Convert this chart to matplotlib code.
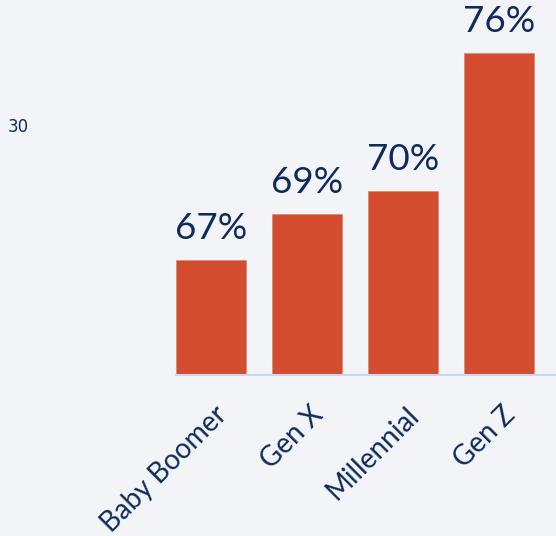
import matplotlib.pyplot as plt
from matplotlib.transforms import ScaledTranslation

generations = ["Baby Boomer", "Gen X", "Millennial", "Gen Z"]
shares = [67, 69, 70, 76]
value_labels = ["67%", "69%", "70%", "76%"]

bg = "#F2F4F7"
navy = "#0E2B5C"
bar_color = "#D34C2D"

fig = plt.figure(figsize=(5.56, 5.36), dpi=100, facecolor=bg)
# axes from bar left edge to beyond right border, baseline at y=375px
ax = fig.add_axes([176 / 556, 161 / 536, 380 / 556, 375 / 536])
ax.set_facecolor(bg)

x = range(len(generations))
ax.bar(x, shares, width=0.73, color=bar_color, edgecolor="#E08A78", linewidth=0.6, zorder=2)

for xi, v, lab in zip(x, shares, value_labels):
    ax.annotate(lab, (xi, v), xytext=(0, 11), textcoords="offset points",
                ha="center", va="bottom", fontsize=26.5, color=navy, family="Lato")

ax.set_xlim(-0.365, 3.594)
ax.set_ylim(62, 78.3)

for s in ["top", "right", "left"]:
    ax.spines[s].set_visible(False)
ax.spines["bottom"].set_color("#BFDBF7")
ax.spines["bottom"].set_linewidth(1.5)
ax.set_yticks([])
ax.set_xticks(list(x))
ax.set_xticklabels(generations, rotation=45, ha="right", va="center",
                   rotation_mode="anchor", fontsize=20, color=navy, family="Lato")
ax.tick_params(axis="x", length=0, pad=0)
offset = ScaledTranslation(12 / 100, -36 / 100, fig.dpi_scale_trans)
for t in ax.get_xticklabels():
    t.set_transform(t.get_transform() + offset)

fig.text(8 / 556, 1 - 127 / 536, "30", fontsize=12, color=navy, va="center", ha="left")

fig.savefig("out.png", dpi=100, facecolor=bg)
